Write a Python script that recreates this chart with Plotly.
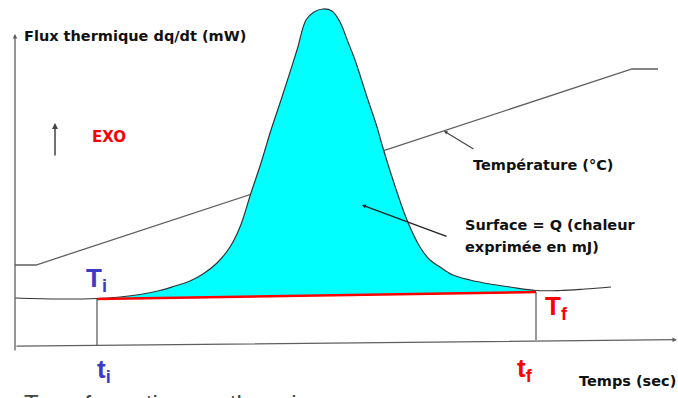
import plotly.graph_objects as go

# Schematic frame: x grows to the right, y grows upwards (0..678 x 0..398)

# Heat-flow signal dq/dt (thin dark curve with the exothermic peak)
CURVE_X = [15, 60, 97, 120, 140, 160, 175, 190, 203, 217, 230, 240, 251, 261,
           271, 281, 297, 306, 314, 323, 332, 340, 348, 355, 367, 377, 383,
           393, 407, 420, 430, 440, 453, 470, 490, 510, 536, 560, 585, 611]
CURVE_Y = [100, 99, 99.5, 101, 103.5, 107.5, 112, 117, 124, 135, 151, 171, 205,
           235, 268, 298, 348, 378, 386, 389, 387, 376, 356, 338, 301, 271, 250,
           218, 178, 151, 138, 131, 123, 118, 114, 111, 107.5, 107.5, 109, 111]

# Temperature programme (°C)
TEMP_X = [15, 36, 632, 658]
TEMP_Y = [133, 133, 329, 329]

# Interpolated baseline between T_i and T_f
BASE_X = [97, 536]      # t_i, t_f
BASE_Y = [99, 106]      # T_i, T_f
TIME_AXIS_Y = [52, 58]  # time axis height below t_i and t_f

AXIS_X = [15, 677]
AXIS_Y = [46, 364]

GREY = "#5f5f5f"
BLUE = "#3b3bc8"
RED = "#ff0000"
FONT = "DejaVu Sans"

fig = go.Figure()

# temperature line (drawn first so the peak hides it)
fig.add_trace(go.Scatter(x=TEMP_X, y=TEMP_Y, mode="lines",
                         line=dict(color=GREY, width=1.3)))

# cyan surface between baseline and peak
fig.add_trace(go.Scatter(x=BASE_X, y=BASE_Y, mode="lines",
                         line=dict(color=RED, width=0)))
seg = [(x, y) for x, y in zip(CURVE_X, CURVE_Y) if BASE_X[0] <= x <= BASE_X[1]]
fig.add_trace(go.Scatter(x=[p[0] for p in seg], y=[p[1] for p in seg],
                         mode="lines", fill="tonexty", fillcolor="#00ffff",
                         line=dict(color="#00ffff", width=0, shape="spline")))

# signal outline
fig.add_trace(go.Scatter(x=CURVE_X, y=CURVE_Y, mode="lines",
                         line=dict(color="#333333", width=1.2, shape="spline")))

# vertical drops at t_i and t_f
for bx, by, ty in zip(BASE_X, BASE_Y, TIME_AXIS_Y):
    fig.add_trace(go.Scatter(x=[bx, bx], y=[by, ty], mode="lines",
                             line=dict(color=GREY, width=1.3)))

# red baseline
fig.add_trace(go.Scatter(x=BASE_X, y=BASE_Y, mode="lines",
                         line=dict(color=RED, width=2.5)))


def arrow(x, y, ax, ay, color=GREY, width=1.3, size=0.7):
    fig.add_annotation(x=x, y=y, ax=ax, ay=ay, xref="x", yref="y",
                       axref="x", ayref="y", text="", showarrow=True,
                       arrowhead=2, arrowsize=size, arrowwidth=width,
                       arrowcolor=color, standoff=0)


# axes
arrow(AXIS_X[1], TIME_AXIS_Y[0] + 6.3, AXIS_X[0], TIME_AXIS_Y[0] - 0.2)
arrow(AXIS_X[0], AXIS_Y[1], AXIS_X[0], AXIS_Y[0])
# EXO arrow
arrow(55, 275, 55, 241, color="#444444", width=1.5, size=0.8)
# pointers
arrow(444, 267, 475, 248, color="#444444", width=1.2, size=0.6)
arrow(362, 193, 448, 161, color="#222222", width=1.3, size=0.6)


def label(x, y, text, color="#111111", size=14.5, family=FONT, bold=True):
    fig.add_annotation(x=x, y=y, xref="x", yref="y", text=text,
                       showarrow=False, xanchor="left", yanchor="middle",
                       font=dict(family=family, size=size, color=color,
                                 weight="bold" if bold else "normal"))


label(22, 362, "Flux thermique dq/dt (mW)")
label(90, 261, "EXO", color=RED, size=15)
label(471, 233, "Température (°C)")
label(463, 173, "Surface = Q (chaleur")
label(463, 151, "exprimée en mJ)")
label(577, 17, "Temps (sec)")

label(84, 118.5, "T<sub>i</sub>", color=BLUE, size=26, family="Liberation Sans")
label(95, 28, "t<sub>i</sub>", color=BLUE, size=26, family="Liberation Sans")
label(543, 91, "T<sub>f</sub>", color=RED, size=26, family="Liberation Sans")
label(515, 29, "t<sub>f</sub>", color=RED, size=26, family="Liberation Sans")

# caption cut by the bottom edge of the slide
fig.add_annotation(x=22, y=10, xref="x", yref="y", yanchor="top",
                   xanchor="left", showarrow=False,
                   text="Transformation exothermique",
                   font=dict(family="Liberation Sans", size=24, color="#444444"))

fig.update_layout(
    width=678, height=398,
    margin=dict(l=0, r=0, t=0, b=0),
    paper_bgcolor="white", plot_bgcolor="white",
    showlegend=False,
    xaxis=dict(range=[0, 678], visible=False, fixedrange=True),
    yaxis=dict(range=[0, 398], visible=False, fixedrange=True),
)

fig.write_html("out.html", config={"displayModeBar": False},
               post_script="document.body.style.margin = '0';")
